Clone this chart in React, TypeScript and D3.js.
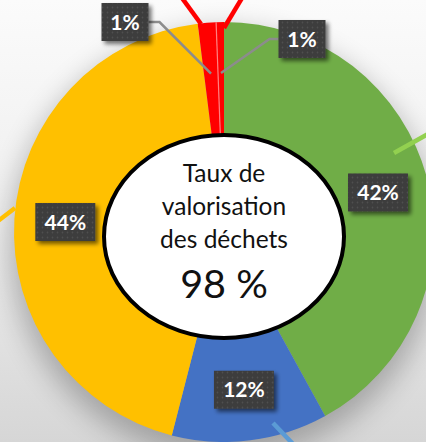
import React, { useEffect } from 'react';
import * as d3 from 'd3';

// ---- data ----
const categories = ['Valorisation matière', 'Réemploi', 'Valorisation énergétique', 'Enfouissement', 'Autres'];
const values = [42, 12, 44, 1.4, 0.6];
const colors = ['#70ad47', '#4472c4', '#ffc000', '#ff0000', '#ff0000'];
const labels = ['42%', '12%', '44%', '1%', '1%'];
const centerLines = ['Taux de', 'valorisation', 'des déchets'];
const centerValue = '98 %';
// small slices whose labels are called out outside the pie
const calloutIndex = [3, 4];
const calloutBox: [number, number][] = [[125, 22], [302, 39]];
// cropped outer leader lines (decoration from the original slide)
const edgeLines: [number, number, number, number, string][] = [
  [182, -2, 201, 24, '#ff0000'],
  [242, -2, 224, 28, '#ff0000'],
  [15, 208, -2, 221, '#ffc000'],
  [394, 153, 428, 134, '#92d050'],
  [273, 423, 293, 444, '#5b9bd5'],
];

const W = 426;
const H = 442;
const CX = 224;
const CY = 232;
const R = 210;
const LABEL_R = 159;

export default function App() {
  useEffect(() => {
    document.body.style.margin = '0';
  }, []);

  const pie = d3.pie<number>().sort(null).value((d) => d).startAngle(0).endAngle(2 * Math.PI);
  const arcs = pie(values);
  const arc = d3.arc<d3.PieArcDatum<number>>().innerRadius(0).outerRadius(R);
  const labelArc = d3.arc<d3.PieArcDatum<number>>().innerRadius(LABEL_R).outerRadius(LABEL_R);

  const boxW = (t: string) => (t.length > 2 ? 60 : 47);
  const boxH = 38;

  const font = 'Lato, "Open Sans", sans-serif';

  return (
    <svg width={W} height={H} viewBox={`0 0 ${W} ${H}`} style={{ display: 'block', position: 'absolute', left: 0, top: 0 }}>
      <defs>
        <linearGradient id="bg" x1="0" y1="0" x2="0" y2="1">
          <stop offset="0" stopColor="#fbfbfb" />
          <stop offset="0.5" stopColor="#eeeeee" />
          <stop offset="1" stopColor="#d6d6d6" />
        </linearGradient>
        <filter id="pieShadow" x="-30%" y="-30%" width="160%" height="160%">
          <feGaussianBlur stdDeviation="14" />
        </filter>
        <filter id="boxShadow" x="-30%" y="-30%" width="160%" height="160%">
          <feGaussianBlur in="SourceAlpha" stdDeviation="2" />
          <feOffset dx="3" dy="3" result="b" />
          <feComponentTransfer>
            <feFuncA type="linear" slope="0.55" />
          </feComponentTransfer>
          <feMerge>
            <feMergeNode />
            <feMergeNode in="SourceGraphic" />
          </feMerge>
        </filter>
        <pattern id="dots" width="5" height="5" patternUnits="userSpaceOnUse">
          <rect width="5" height="5" fill="#3d3d3d" />
          <circle cx="2.5" cy="2.5" r="0.9" fill="#505050" />
        </pattern>
      </defs>

      <rect width={W} height={H} fill="url(#bg)" />
      <circle cx={CX} cy={CY + 12} r={R + 4} fill="#000" opacity={0.25} filter="url(#pieShadow)" />

      <g transform={`translate(${CX},${CY})`}>
        {arcs.map((a, i) => (
          <path key={categories[i]} d={arc(a) || ''} fill={colors[i]} />
        ))}
        {/* separator between the two red slices */}
        {(() => {
          const ang = arcs[4].startAngle;
          return (
            <line
              x1={0}
              y1={0}
              x2={R * Math.sin(ang)}
              y2={-R * Math.cos(ang)}
              stroke="#ff8080"
              strokeWidth={1.2}
            />
          );
        })()}
      </g>

      {edgeLines.map(([x1, y1, x2, y2, c], i) => (
        <line key={'e' + i} x1={x1} y1={y1} x2={x2} y2={y2} stroke={c} strokeWidth={4.5} />
      ))}

      {/* callout leader lines */}
      {calloutIndex.map((idx, k) => {
        const [px, py] = labelArc.centroid(arcs[idx]);
        const tx = CX + px;
        const ty = CY + py;
        const [bx, by] = calloutBox[k];
        const w = boxW(labels[idx]);
        const left = bx < tx;
        const ex = left ? bx + w / 2 : bx - w / 2;
        const kx = left ? ex + 11 : ex - 9;
        return (
          <polyline
            key={'l' + idx}
            points={`${ex},${by} ${kx},${by} ${tx},${ty}`}
            fill="none"
            stroke="#8c8c8c"
            strokeWidth={2.5}
          />
        );
      })}

      {/* centre ellipse */}
      <ellipse cx={CX} cy={236.5} rx={120} ry={101.5} fill="#ffffff" stroke="#000" strokeWidth={4} />
      {centerLines.map((t, i) => (
        <text
          key={t}
          x={CX}
          y={182 + i * 33}
          textAnchor="middle"
          fontFamily={font}
          fontSize={24.5}
          fill="#111"
        >
          {t}
        </text>
      ))}
      <text x={CX} y={298} textAnchor="middle" fontFamily={font} fontSize={39.5} fill="#111">
        {centerValue}
      </text>

      {/* data labels */}
      {arcs.map((a, i) => {
        const k = calloutIndex.indexOf(i);
        let cx: number;
        let cy: number;
        if (k >= 0) {
          [cx, cy] = calloutBox[k];
        } else {
          const [px, py] = labelArc.centroid(a);
          cx = CX + px;
          cy = CY + py;
        }
        const w = boxW(labels[i]);
        return (
          <g key={'t' + i}>
            <rect x={cx - w / 2} y={cy - boxH / 2} width={w} height={boxH} fill="url(#dots)" filter="url(#boxShadow)" />
            <text
              x={cx}
              y={cy + 7.5}
              textAnchor="middle"
              fontFamily={font}
              fontWeight={700}
              fontSize={21}
              fill="#ffffff"
            >
              {labels[i]}
            </text>
          </g>
        );
      })}
    </svg>
  );
}
